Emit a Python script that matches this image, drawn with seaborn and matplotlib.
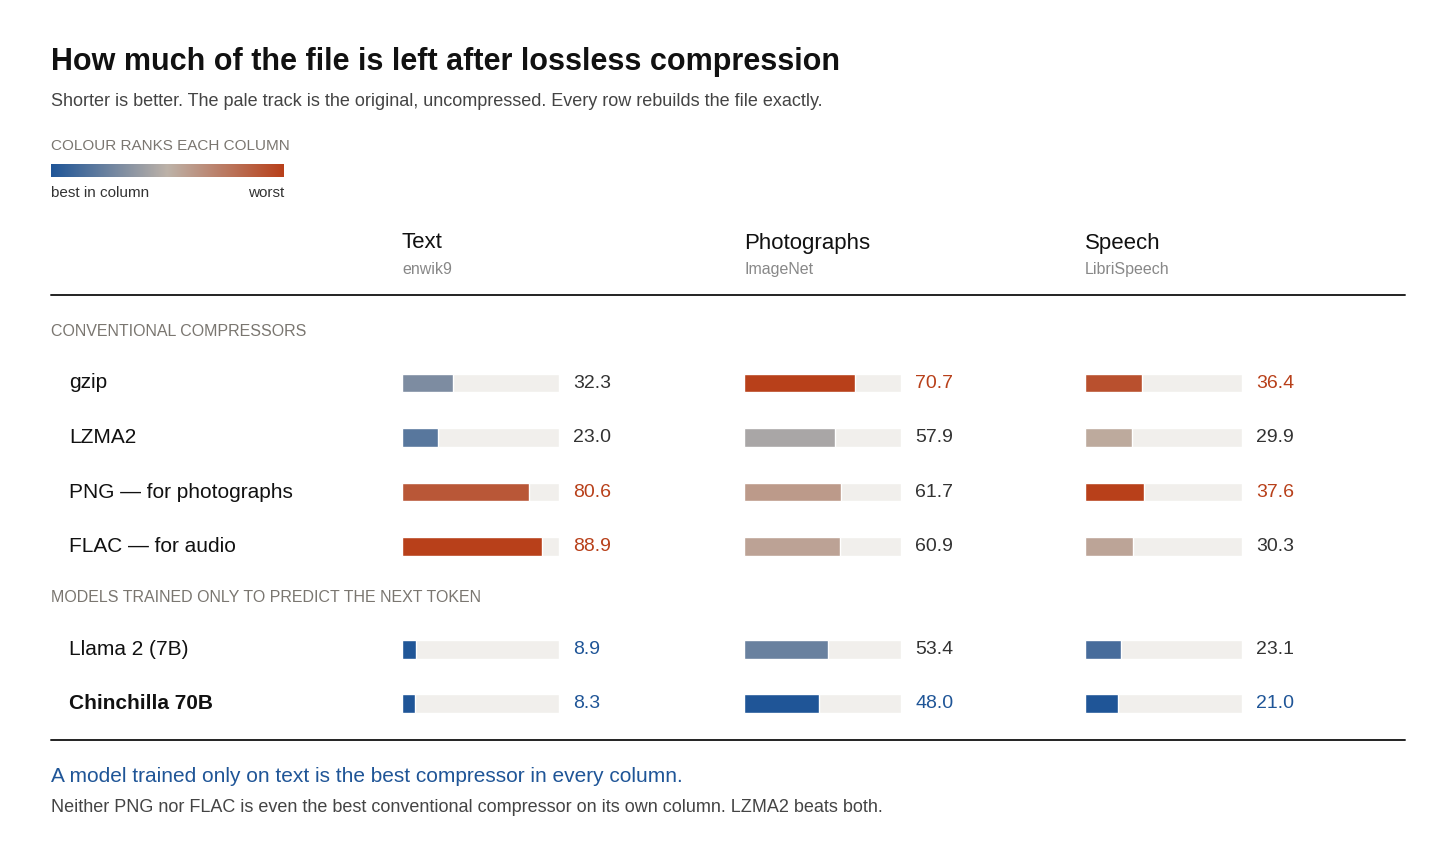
import matplotlib.pyplot as plt
import seaborn as sns
import numpy as np
from matplotlib.colors import LinearSegmentedColormap, Normalize
from matplotlib.lines import Line2D

sns.set_theme(style="white")
plt.rcParams['font.family'] = ['Liberation Sans', 'DejaVu Sans']

compressors = ["gzip", "LZMA2", "PNG — for photographs", "FLAC — for audio",
               "Llama 2 (7B)", "Chinchilla 70B"]
columns = ["Text", "Photographs", "Speech"]
datasets = ["enwik9", "ImageNet", "LibriSpeech"]
text_vals = [32.3, 23.0, 80.6, 88.9, 8.9, 8.3]
photo_vals = [70.7, 57.9, 61.7, 60.9, 53.4, 48.0]
speech_vals = [36.4, 29.9, 37.6, 30.3, 23.1, 21.0]

W, H = 1456, 868
fig = plt.figure(figsize=(W / 100, H / 100), dpi=100)
fig.patch.set_facecolor("white")

def fx(x):
    return x / W

def fy(y):
    return 1 - y / H

cmap = LinearSegmentedColormap.from_list("rank", ["#1f5597", "#bdb2a8", "#b8401a"])
BLUE, RED, GREY = "#1f5597", "#b8401a", "#7a7670"

fig.text(fx(51), fy(62), "How much of the file is left after lossless compression",
         fontsize=22, fontweight="semibold", va="center", color="#111111")
fig.text(fx(51), fy(101), "Shorter is better. The pale track is the original, uncompressed. Every row rebuilds the file exactly.",
         fontsize=13, va="center", color="#444444")
fig.text(fx(51), fy(146), "COLOUR RANKS EACH COLUMN", fontsize=11, va="center", color=GREY)
cax = fig.add_axes([fx(51), fy(177), fx(233), (177 - 164) / H])
cax.imshow(np.linspace(0, 1, 256)[None, :], aspect="auto", cmap=cmap)
cax.set_axis_off()
fig.text(fx(51), fy(193), "best in column", fontsize=11, va="center", color="#333333")
fig.text(fx(284), fy(193), "worst", fontsize=11, va="center", ha="right", color="#333333")

col_x = [402, 744, 1085]
for x, c, d in zip(col_x, columns, datasets):
    fig.text(fx(x), fy(243), c, fontsize=16, fontweight="medium", va="center", color="#111111")
    fig.text(fx(x), fy(269), d, fontsize=11.5, va="center", color="#888888")

for y in (295, 740):
    fig.add_artist(Line2D([fx(51), fx(1405)], [fy(y), fy(y)], color="#222222", lw=1.4))

fig.text(fx(51), fy(332), "CONVENTIONAL COMPRESSORS", fontsize=11.5, va="center", color=GREY)
fig.text(fx(51), fy(598), "MODELS TRAINED ONLY TO PREDICT THE NEXT TOKEN", fontsize=11.5, va="center", color=GREY)

row_pos = [0, 1, 2, 3, 4.89, 5.88]
unit = 54.5
top = 383 - 0.5 * unit
height = 6.88 * unit
for i, (name, p) in enumerate(zip(compressors, row_pos)):
    fig.text(fx(69), fy(383 + p * unit), name, fontsize=15, va="center", color="#111111",
             fontweight="semibold" if i == 5 else "normal")

for x, vals in zip(col_x, [text_vals, photo_vals, speech_vals]):
    ax = fig.add_axes([fx(x), fy(top + height), fx(157), height / H])
    norm = Normalize(min(vals), max(vals))
    ax.barh(row_pos, [100] * len(vals), height=0.34, color="#f1efec")
    ax.barh(row_pos, vals, height=0.34, color=[cmap(norm(v)) for v in vals])
    for p, v in zip(row_pos, vals):
        n = norm(v)
        col = BLUE if n < 0.1 else (RED if n > 0.85 else "#333333")
        ax.text(109, p, f"{v:.1f}", va="center", ha="left", fontsize=14, color=col, clip_on=False)
    ax.set_xlim(0, 100)
    ax.set_ylim(row_pos[0] - 0.5, row_pos[0] - 0.5 + 6.88)
    ax.invert_yaxis()
    ax.set_axis_off()

fig.text(fx(51), fy(776), "A model trained only on text is the best compressor in every column.",
         fontsize=15, fontweight="medium", va="center", color=BLUE)
fig.text(fx(51), fy(807), "Neither PNG nor FLAC is even the best conventional compressor on its own column. LZMA2 beats both.",
         fontsize=13, va="center", color="#444444")

fig.savefig("out.png", dpi=100, facecolor="white")
